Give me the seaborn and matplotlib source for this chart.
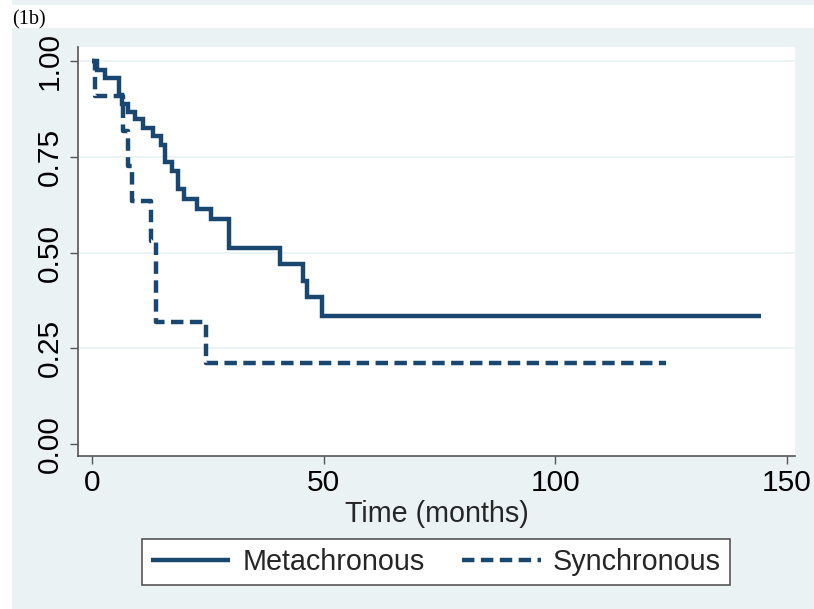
import matplotlib
matplotlib.use("Agg")
import matplotlib.pyplot as plt
from matplotlib.patches import Rectangle
from matplotlib.lines import Line2D
import seaborn as sns
import pandas as pd

# ---- data ----
meta_time = [0, 1.2, 2.8, 5.8, 6.5, 7.7, 9.4, 11.1, 13.1, 15.0, 15.8, 17.2, 18.6,
             19.8, 22.6, 25.8, 29.6, 40.6, 45.6, 46.5, 49.6, 144.4]
meta_surv = [1.0, 0.978, 0.956, 0.911, 0.889, 0.867, 0.848, 0.826, 0.804, 0.781,
             0.737, 0.713, 0.665, 0.640, 0.615, 0.587, 0.511, 0.470, 0.426, 0.385,
             0.335, 0.335]
sync_time = [0, 0.7, 6.8, 7.7, 8.7, 12.7, 13.8, 24.7, 123.9]
sync_surv = [1.0, 0.909, 0.818, 0.727, 0.636, 0.530, 0.318, 0.212, 0.212]

series_labels = ["Metachronous", "Synchronous"]
x_ticks = [0, 50, 100, 150]
y_ticks = [0.00, 0.25, 0.50, 0.75, 1.00]
y_ticklabels = ["0.00", "0.25", "0.50", "0.75", "1.00"]
x_label = "Time (months)"
panel_tag = "(1b)"

# ---- style ----
sns.set_theme(style="white")
plt.rcParams["font.family"] = ["Liberation Sans", "DejaVu Sans"]

NAVY = "#1a476f"
BG = "#eaf2f3"
SPINE = "#555555"
W, H = 814, 609
FS = 20.7
LW = 3.2
DASH = (0, (2.8, 1.45))

fig = plt.figure(figsize=(W / 100, H / 100), dpi=100, facecolor="white")
# light graph-region background (with white strip holding the panel tag)
fig.patches.append(Rectangle((12 / W, 0), 1 - 12 / W, (H - 28) / H,
                             transform=fig.transFigure, facecolor=BG,
                             edgecolor="none", zorder=-10))
fig.patches.append(Rectangle((12 / W, 1 - 5 / H), 1 - 12 / W, 5 / H,
                             transform=fig.transFigure, facecolor=BG,
                             edgecolor="none", zorder=-10))
fig.text(12 / W, 1 - 24 / H, panel_tag, family=["Liberation Serif", "DejaVu Serif"],
         fontsize=14.5, color="black", va="baseline", ha="left")

ax = fig.add_axes([78 / W, (H - 456) / H, (795 - 78) / W, (456 - 47) / H])
ax.set_facecolor("white")

df_meta = pd.DataFrame({"time": meta_time, "surv": meta_surv})
df_sync = pd.DataFrame({"time": sync_time, "surv": sync_surv})

sns.lineplot(data=df_meta, x="time", y="surv", ax=ax, estimator=None, sort=False,
             drawstyle="steps-post", color=NAVY, linewidth=LW,
             solid_capstyle="butt", solid_joinstyle="miter", zorder=3)
sns.lineplot(data=df_sync, x="time", y="surv", ax=ax, estimator=None, sort=False,
             drawstyle="steps-post", color=NAVY, linewidth=LW,
             dashes=False, zorder=3)
ax.lines[1].set_linestyle(DASH)
ax.lines[1].set_dash_capstyle("butt")

for yv in y_ticks[1:]:
    ax.axhline(yv, color=BG, linewidth=1.3, zorder=1)

ax.set_xlim(-3.0, 151.7)
ax.set_ylim(-0.031, 1.037)
ax.set_xticks(x_ticks)
ax.set_xticklabels([str(t) for t in x_ticks], fontsize=FS + 0.8)
ax.set_yticks(y_ticks)
ax.set_yticklabels(y_ticklabels, fontsize=FS + 0.8, rotation=90, va="center")
ax.tick_params(axis="both", direction="out", length=5.5, width=1.0,
               color=SPINE, labelcolor="black", left=True, bottom=True)
ax.tick_params(axis="x", pad=4)
ax.tick_params(axis="y", pad=5)

for s in ["top", "right"]:
    ax.spines[s].set_visible(False)
for s in ["left", "bottom"]:
    ax.spines[s].set_color(SPINE)
    ax.spines[s].set_linewidth(1.2)

ax.set_xlabel(x_label, fontsize=FS, labelpad=2)
ax.set_ylabel("")

handles = [Line2D([], [], color=NAVY, linewidth=LW, solid_capstyle="butt"),
           Line2D([], [], color=NAVY, linewidth=LW, linestyle=DASH,
                  dash_capstyle="butt")]
leg = fig.legend(handles, series_labels, loc="center",
                 bbox_to_anchor=(436 / W, 1 - 562 / H), ncol=2, frameon=True,
                 fancybox=False, edgecolor=SPINE, facecolor="white", framealpha=1,
                 fontsize=FS, handlelength=2.75, handletextpad=0.42,
                 columnspacing=1.3, borderpad=0.32)
leg.get_frame().set_linewidth(1.2)

fig.savefig("out.png", dpi=100, facecolor=fig.get_facecolor())
